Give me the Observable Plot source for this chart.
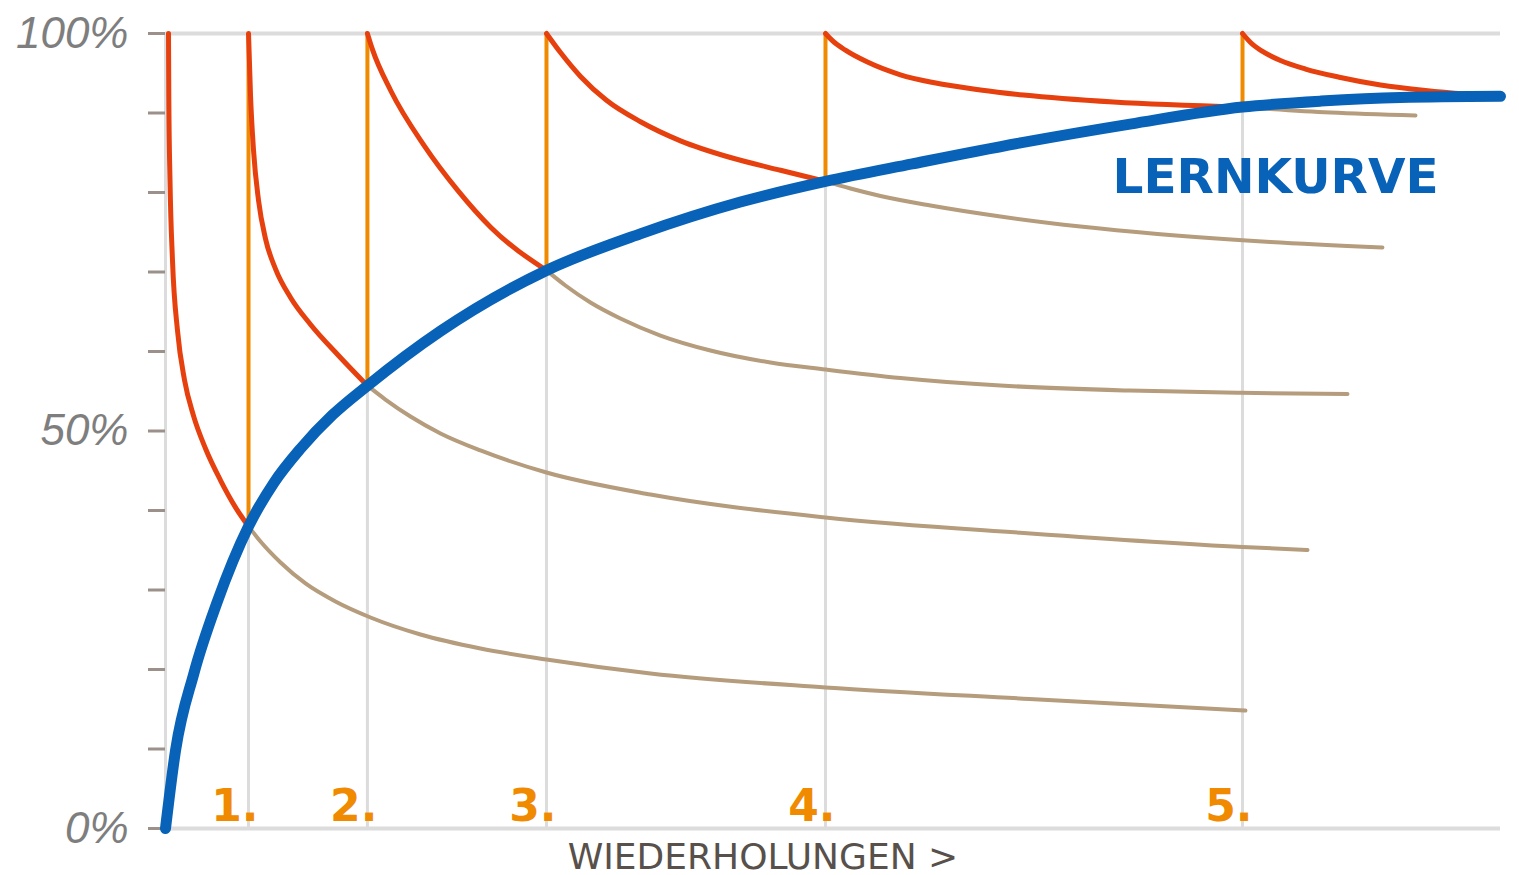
<!DOCTYPE html>
<html>
<head>
<meta charset="utf-8">
<script src="https://cdn.jsdelivr.net/npm/d3@7"></script>
<script src="https://cdn.jsdelivr.net/npm/@observablehq/plot@0.6"></script>
<style>
  html, body { margin: 0; padding: 0; background: #fff; }
  svg [aria-label="y-axis tick label"] text { font-style: italic; }
</style>
</head>
<body>
<div id="chart"></div>
<script>
// Repetition times (x, arbitrary time units) and the level reached at each repetition
const repTimes = [0.995, 2.42, 4.566, 7.91, 12.908];
const repLabels = ["1.", "2.", "3.", "4.", "5."];
const repLevels = [38, 55.7, 70.2, 81.4, 90.75];

// Learning curve (LERNKURVE)
const learnX = [0, 0.12, 0.34, 0.62, 0.995, 1.3, 1.62, 2.0, 2.42, 3.3, 4.566, 5.69, 6.89, 7.91, 8.95, 10.28, 11.56, 12.908, 13.85, 14.8, 16.0];
const learnY = [0, 9.8, 19.5, 28.5, 38, 43.5, 47.8, 52.0, 55.7, 62.6, 70.2, 74.8, 78.8, 81.4, 83.6, 86.3, 88.6, 90.75, 91.5, 91.95, 92.1];

// Forgetting curves after each learning step (red)
const red0X = [0.036, 0.040, 0.054, 0.084, 0.144, 0.228, 0.336, 0.479, 0.659, 0.839, 0.995];
const red0Y = [100, 91.6, 81.5, 71.4, 62.6, 56.4, 51.9, 47.8, 43.8, 40.4, 38];
const red1X = [0.995, 1.019, 1.055, 1.115, 1.198, 1.318, 1.498, 1.738, 2.073, 2.42];
const red1Y = [100, 92.2, 85.3, 79.0, 74.2, 70.4, 66.8, 63.4, 59.5, 55.7];
const red2X = [2.42, 2.48, 2.70, 3.10, 3.50, 3.90, 4.566];
const red2Y = [100, 98.0, 92.8, 85.9, 80.3, 75.6, 70.2];
const red3X = [4.566, 4.734, 4.974, 5.285, 5.693, 6.172, 6.771, 7.371, 7.91];
const red3Y = [100, 97.6, 94.6, 91.6, 88.9, 86.5, 84.4, 82.8, 81.4];
const red4X = [7.91, 7.993, 8.149, 8.413, 8.808, 9.216, 9.767, 10.283, 11.362, 12.908];
const red4Y = [100, 99.1, 97.9, 96.4, 94.8, 93.8, 92.9, 92.26, 91.38, 90.75];
const red5X = [12.908, 13.004, 13.148, 13.363, 13.663, 14.082, 14.562, 15.101, 15.580, 15.940];
const red5Y = [100, 98.87, 97.74, 96.6, 95.53, 94.47, 93.52, 92.83, 92.39, 92.14];

// Forgetting without further repetition (tan)
const tan1X = [0.995, 1.139, 1.379, 1.678, 2.037, 2.457, 3.056, 3.775, 4.566, 5.813, 7.91, 10.355, 12.943];
const tan1Y = [38, 36.1, 33.46, 30.82, 28.55, 26.54, 24.4, 22.64, 21.26, 19.5, 17.74, 16.29, 14.84];
const tan2X = [2.42, 2.636, 2.936, 3.296, 3.775, 4.566, 5.813, 7.91, 10.367, 12.908, 13.687];
const tan2Y = [55.7, 53.96, 51.82, 49.69, 47.55, 44.78, 42.01, 39.12, 37.11, 35.41, 35.03];
const tan3X = [4.566, 4.793, 5.093, 5.452, 5.932, 6.531, 7.25, 7.91, 8.809, 10.007, 11.553, 12.884, 14.166];
const tan3Y = [70.2, 68.3, 66.16, 64.15, 62.01, 60.13, 58.62, 57.74, 56.67, 55.72, 55.09, 54.8, 54.65];
const tan4X = [7.91, 8.21, 8.569, 9.168, 10.007, 10.966, 11.889, 13.243, 14.585];
const tan4Y = [81.4, 80.5, 79.56, 78.36, 76.98, 75.72, 74.78, 73.77, 73.08];
const tan5X = [12.908, 13.962, 14.981];
const tan5Y = [90.75, 90.06, 89.69];

const yTicks = [0, 10, 20, 30, 40, 50, 60, 70, 80, 90, 100];
const yLabeled = [0, 50, 100];

const pts = (xs, ys) => xs.map((x, i) => ({x, y: ys[i]}));
const reds = [[red0X, red0Y], [red1X, red1Y], [red2X, red2Y], [red3X, red3Y], [red4X, red4Y], [red5X, red5Y]].map(([a, b]) => pts(a, b));
const tans = [[tan1X, tan1Y], [tan2X, tan2Y], [tan3X, tan3Y], [tan4X, tan4Y], [tan5X, tan5Y]].map(([a, b]) => pts(a, b));
const learn = pts(learnX, learnY);
const reps = repTimes.map((x, i) => ({x, level: repLevels[i], label: repLabels[i]}));

const GRID = "#dcdcdc";
const RED = "#e6400e";
const ORANGE = "#f08a00";
const TAN = "#b59c7c";
const BLUE = "#0862b8";

const chart = Plot.plot({
  width: 1519,
  height: 875,
  marginLeft: 165,
  marginRight: 19,
  marginTop: 33,
  marginBottom: 47,
  x: {domain: [0, 16], axis: null},
  y: {domain: [0, 100], axis: null},
  marks: [
    Plot.ruleX([0, ...repTimes], {stroke: GRID, strokeWidth: 3}),
    Plot.ruleY([0, 100], {stroke: GRID, strokeWidth: 4}),
    Plot.axisY({
      ticks: yTicks,
      tickSize: 17,
      tickPadding: 20,
      stroke: "#9c918a",
      strokeWidth: 3,
      fill: "#7e7e7e",
      fontSize: 44,
      fontFamily: "Liberation Sans",
      tickFormat: d => yLabeled.includes(d) ? d + "%" : "",
      label: null
    }),
    ...tans.map(t => Plot.line(t, {x: "x", y: "y", stroke: TAN, strokeWidth: 4, curve: "monotone-x", strokeLinecap: "round"})),
    Plot.ruleX(reps, {x: "x", y1: "level", y2: 100, stroke: ORANGE, strokeWidth: 4}),
    ...reds.map(r => Plot.line(r, {x: "x", y: "y", stroke: RED, strokeWidth: 5, curve: "monotone-x", strokeLinecap: "round", strokeLinejoin: "round"})),
    Plot.line(learn, {x: "x", y: "y", stroke: BLUE, strokeWidth: 11, curve: "monotone-x", strokeLinecap: "round"}),
    Plot.text(reps, {x: "x", y: 0, text: "label", textAnchor: "end", lineAnchor: "bottom", dx: 10, dy: -8,
      fill: ORANGE, fontSize: 44, fontWeight: "bold", fontFamily: "DejaVu Sans"}),
    Plot.text(["LERNKURVE"], {x: 11.35, y: 79.9, text: d => d, textAnchor: "start", lineAnchor: "bottom",
      fill: BLUE, fontSize: 48.5, fontWeight: "bold", fontFamily: "DejaVu Sans"}),
    Plot.text(["WIEDERHOLUNGEN >"], {x: 7.16, y: 0, text: d => d, textAnchor: "middle", lineAnchor: "bottom", dy: 40,
      fill: "#58504a", fontSize: 36, fontFamily: "DejaVu Sans"})
  ]
});
document.getElementById("chart").appendChild(chart);
</script>
</body>
</html>
